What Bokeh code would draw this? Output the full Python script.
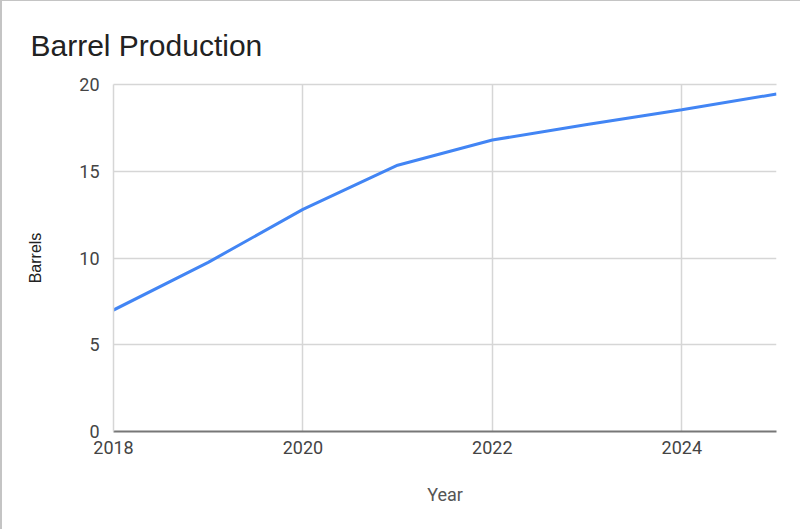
from bokeh.plotting import figure
from bokeh.models import Range1d, FixedTicker, LinearAxis
from bokeh.embed import file_html
from bokeh.resources import INLINE

# Annual barrel output
years = [2018, 2019, 2020, 2021, 2022, 2023, 2024, 2025]
barrels = [7.0, 9.75, 12.8, 15.35, 16.8, 17.7, 18.55, 19.45]

x_ticks = [2018, 2020, 2022, 2024]
y_ticks = [0, 5, 10, 15, 20]

p = figure(
    width=800, height=529,
    output_backend="svg", toolbar_location=None,
    x_range=Range1d(2018, 2025), y_range=Range1d(0, 20),
    min_border_left=111, min_border_right=26,
    min_border_top=83, min_border_bottom=99,
    title="Barrel Production",
)
p.styles = {"border-top": "1px solid #c4c4c4", "border-left": "2px solid #c4c4c4",
            "box-sizing": "border-box"}

p.background_fill_color = "white"
p.border_fill_color = "white"
p.outline_line_color = None

p.title.text_font = "Liberation Sans"
p.title.text_font_size = "30px"
p.title.text_font_style = "normal"
p.title.text_color = "#222222"
p.title.offset = -83
p.title.standoff = 46

p.line(years, barrels, line_color="#4285F4", line_width=3)

# x axis
p.xaxis.ticker = FixedTicker(ticks=x_ticks)
p.xaxis.axis_line_color = "#777777"
p.xaxis.axis_line_width = 2
p.xaxis.major_tick_line_color = None
p.xaxis.minor_tick_line_color = None
p.xaxis.major_label_text_font = "Roboto"
p.xaxis.major_label_text_font_size = "18px"
p.xaxis.major_label_text_color = "#444444"
p.xaxis.major_label_standoff = 3
p.xaxis.axis_label = "Year"
p.xaxis.axis_label_text_font = "Roboto"
p.xaxis.axis_label_text_font_size = "18px"
p.xaxis.axis_label_text_font_style = "normal"
p.xaxis.axis_label_text_color = "#555555"
p.xaxis.axis_label_standoff = 27

# y axis: its line doubles as the grid line at the left edge
p.yaxis.ticker = FixedTicker(ticks=y_ticks)
p.yaxis.axis_line_color = "#d6d6d6"
p.yaxis.axis_line_width = 1.5
p.yaxis.major_tick_line_color = None
p.yaxis.minor_tick_line_color = None
p.yaxis.major_label_text_font = "Roboto"
p.yaxis.major_label_text_font_size = "18px"
p.yaxis.major_label_text_color = "#444444"
p.yaxis.major_label_standoff = 8
p.yaxis.axis_label = "Barrels"
p.yaxis.axis_label_text_font = "Liberation Sans"
p.yaxis.axis_label_text_font_size = "16px"
p.yaxis.axis_label_text_font_style = "normal"
p.yaxis.axis_label_text_color = "#222222"
p.yaxis.axis_label_standoff = 32

# bare axis on top: its line is the grid line at 20
top = LinearAxis(ticker=FixedTicker(ticks=[]), axis_line_color="#d6d6d6",
                 axis_line_width=1.5, major_tick_line_color=None,
                 minor_tick_line_color=None, major_label_text_font_size="0px")
p.add_layout(top, "above")

# grid
p.xgrid.grid_line_color = "#d6d6d6"
p.xgrid.grid_line_width = 1.5
p.ygrid.grid_line_color = "#d6d6d6"
p.ygrid.grid_line_width = 1.5

open("out.html", "w").write(file_html(p, INLINE))
